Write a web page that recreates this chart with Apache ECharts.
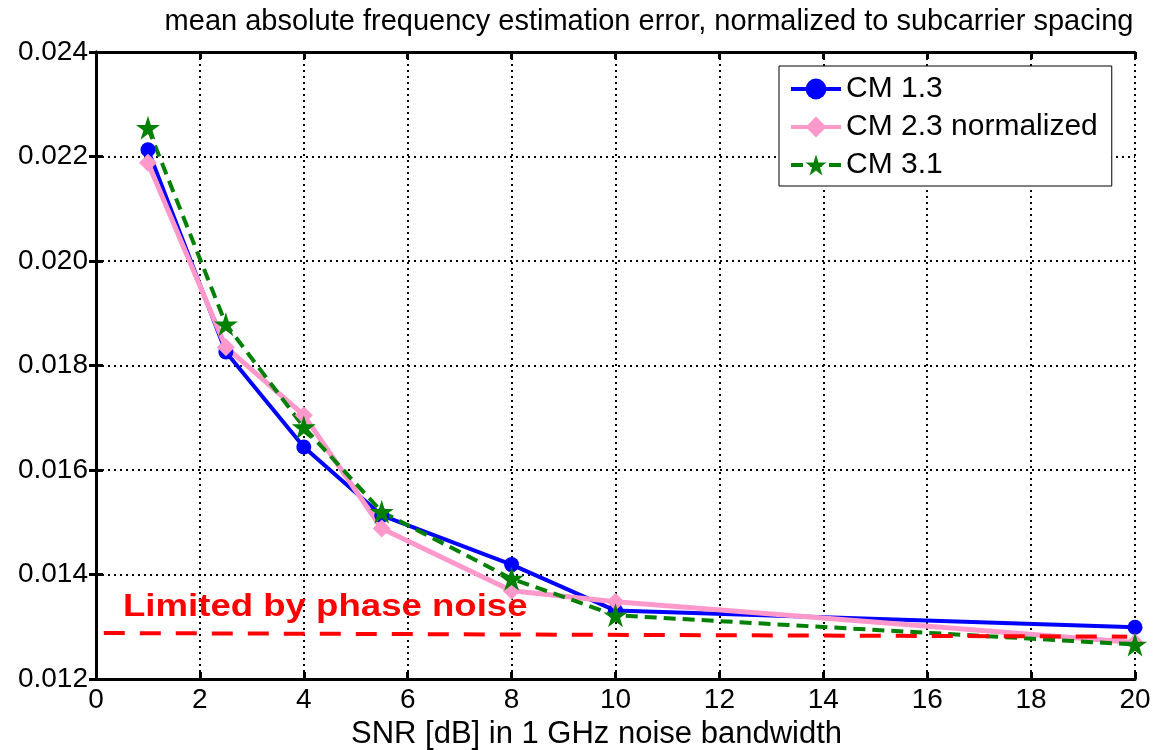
<!DOCTYPE html>
<html>
<head>
<meta charset="utf-8">
<script src="https://cdn.jsdelivr.net/npm/echarts@6/dist/echarts.min.js"></script>
<style>
  html, body { margin: 0; padding: 0; background: #fff; }
  #chart { width: 1155px; height: 750px; }
</style>
</head>
<body>
<div id="chart"></div>
<script>
var snr = [1, 2.5, 4, 5.5, 8, 10, 20];
var cm13 = [0.02213, 0.01826, 0.01644, 0.01513, 0.01419, 0.01331, 0.01299];
var cm23 = [0.02188, 0.01835, 0.01705, 0.01488, 0.01369, 0.01348, 0.01270];
var cm31 = [0.02255, 0.01879, 0.01682, 0.01520, 0.01392, 0.01322, 0.01266];
var limitX = [0.15, 19.85];
var limitY = [0.01288, 0.01281];
var noteText = 'Limited by phase noise';
var notePos = [0.52, 0.013378];

var starPath = 'path://M50 0 L61.17 34.63 L97.55 34.55 L68.07 55.87 L79.39 90.45 L50 69 L20.61 90.45 L31.93 55.87 L2.45 34.55 L38.83 34.63 Z';

function pairs(xs, ys) {
    return xs.map(function (x, i) { return [x, ys[i]]; });
}

var font = 'Liberation Sans, Arial, sans-serif';
var myChart = echarts.init(document.getElementById('chart'));

var option = {
    animation: false,
    title: {
        text: 'mean absolute frequency estimation error, normalized to subcarrier spacing',
        left: 644,
        textAlign: 'center',
        top: 2,
        textStyle: { fontFamily: font, fontSize: 29, fontWeight: 'normal', color: '#000' }
    },
    grid: { left: 96, right: 20, top: 52, bottom: 71, outerBoundsMode: 'none' },
    legend: {
        data: ['CM 1.3', 'CM 2.3 normalized', 'CM 3.1'],
        orient: 'vertical',
        left: 779,
        top: 66,
        padding: [8, 14, 6, 10],
        itemGap: 8,
        itemWidth: 50,
        itemHeight: 26,
        backgroundColor: '#fff',
        borderColor: '#000',
        borderWidth: 1,
        lineStyle: { width: 4 },
        textStyle: { fontFamily: font, fontSize: 30, color: '#000' }
    },
    xAxis: [{
        type: 'value', min: 0, max: 20, interval: 2,
        name: 'SNR [dB] in 1 GHz noise bandwidth',
        nameLocation: 'middle', nameGap: 40,
        nameTextStyle: { fontFamily: font, fontSize: 31, color: '#000', padding: [0, 38, 0, 0] },
        axisLine: { lineStyle: { color: '#000', width: 3 } },
        axisTick: { inside: true, length: 7, lineStyle: { color: '#000', width: 3 } },
        axisLabel: { fontFamily: font, fontSize: 28, color: '#000', margin: 7 },
        splitLine: { show: true, lineStyle: { color: '#000', type: [2, 4], width: 2 } }
    }, {
        type: 'value', min: 0, max: 20, interval: 2, position: 'top',
        axisLine: { lineStyle: { color: '#000', width: 3 } },
        axisTick: { inside: true, length: 7, lineStyle: { color: '#000', width: 3 } },
        axisLabel: { show: false },
        splitLine: { show: false }
    }],
    yAxis: [{
        type: 'value', min: 0.012, max: 0.024, interval: 0.002,
        axisLine: { show: true, lineStyle: { color: '#000', width: 3 } },
        axisTick: { show: true, inside: true, length: 7, lineStyle: { color: '#000', width: 3 } },
        axisLabel: { fontFamily: font, fontSize: 28, color: '#000', margin: 8,
            formatter: function (v) { return v.toFixed(3); } },
        splitLine: { show: true, lineStyle: { color: '#000', type: [2, 4], width: 2 } }
    }, {
        type: 'value', min: 0.012, max: 0.024, interval: 0.002, position: 'right',
        axisLine: { show: true, lineStyle: { color: '#000', width: 3 } },
        axisTick: { show: true, inside: true, length: 7, lineStyle: { color: '#000', width: 3 } },
        axisLabel: { show: false },
        splitLine: { show: false }
    }],
    series: [{
        name: 'CM 1.3', type: 'line', data: pairs(snr, cm13),
        color: '#0000ff',
        symbol: 'circle', symbolSize: 15,
        lineStyle: { width: 4, color: '#0000ff' },
        itemStyle: { color: '#0000ff' }
    }, {
        name: 'CM 2.3 normalized', type: 'line', data: pairs(snr, cm23),
        color: '#ff99cc',
        symbol: 'diamond', symbolSize: 18,
        lineStyle: { width: 5, color: '#ff99cc' },
        itemStyle: { color: '#ff99cc' }
    }, {
        name: 'CM 3.1', type: 'line', data: pairs(snr, cm31),
        color: '#008000',
        symbol: starPath, symbolSize: 24,
        lineStyle: { width: 4, color: '#008000', type: [12, 7] },
        itemStyle: { color: '#008000' }
    }, {
        name: 'limit', type: 'line', data: pairs(limitX, limitY),
        symbol: 'none', silent: true,
        lineStyle: { width: 4, color: '#ff0000', type: [21, 15] }
    }]
};

myChart.setOption(option);

var p = myChart.convertToPixel({ gridIndex: 0 }, notePos);
myChart.setOption({
    graphic: [{
        type: 'text',
        x: p[0], y: p[1],
        scaleX: 1.18,
        style: {
            text: noteText,
            fill: '#ff0000',
            font: 'bold 31px ' + font,
            textVerticalAlign: 'middle'
        }
    }]
});
</script>
</body>
</html>
